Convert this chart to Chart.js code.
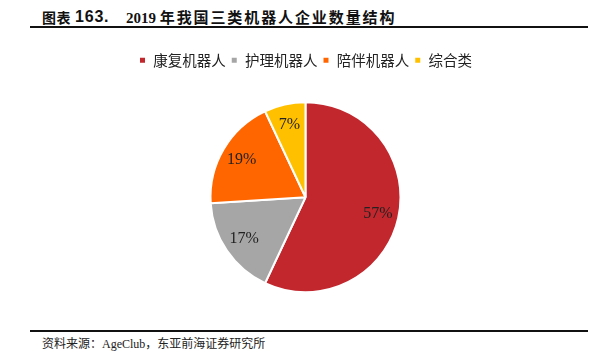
<!DOCTYPE html>
<html>
<head>
<meta charset="utf-8">
<script src="https://cdn.jsdelivr.net/npm/chart.js@4/dist/chart.umd.min.js"></script>
<style>
  html, body { margin: 0; padding: 0; background: #fff; }
  body { width: 602px; height: 364px; position: relative; overflow: hidden; }
  .t { position: absolute; top: 6px; font-weight: 700; color: #111; white-space: nowrap; line-height: 22px; }
  .t1 { left: 42px; font-size: 14px; letter-spacing: 0.6px; font-family: "Noto Sans CJK SC", sans-serif; }
  .t2 { left: 75px; font-size: 16px; letter-spacing: 0.8px; font-family: "Liberation Sans", sans-serif; }
  .t3 { left: 126px; font-size: 15px; font-family: "Liberation Serif", serif; }
  .t3 .cjk { font-family: "Noto Sans CJK SC", sans-serif; letter-spacing: 1.9px; }
  .rule { position: absolute; left: 30px; width: 558px; height: 2px; background: #111; }
  .source { position: absolute; left: 42px; top: 336px; font-size: 12px; color: #222; white-space: nowrap; line-height: 17px;
    font-family: "Liberation Serif", "Noto Sans CJK SC", serif; }
  #wrap { position: absolute; left: 11px; top: 48px; width: 589px; height: 269px; }
</style>
</head>
<body>
<div class="t t1">图表</div>
<div class="t t2">163.</div>
<div class="t t3">2019 <span class="cjk">年我国三类机器人企业数量结构</span></div>
<div class="rule" style="top:26px"></div>
<div id="wrap"><canvas id="myChart"></canvas></div>
<div class="rule" style="top:330px"></div>
<div class="source">资料来源：AgeClub，东亚前海证券研究所</div>
<script>
const categories = ['康复机器人', '护理机器人', '陪伴机器人', '综合类']
const shares = [57, 17, 19, 7]
const colors = ['#C1272D', '#A6A6A6', '#FF6600', '#FFC000']

// percent labels inside each slice
const sliceLabels = {
  id: 'sliceLabels',
  afterDatasetsDraw (chart) {
    const ctx = chart.ctx
    const meta = chart.getDatasetMeta(0)
    ctx.save()
    ctx.font = '16px "Liberation Serif", serif'
    ctx.fillStyle = '#222'
    ctx.textAlign = 'center'
    ctx.textBaseline = 'middle'
    meta.data.forEach((arc, i) => {
      const p = arc.getProps(['x', 'y', 'startAngle', 'endAngle', 'outerRadius'], true)
      const mid = (p.startAngle + p.endAngle) / 2
      const r = p.outerRadius * 0.78
      ctx.fillText(shares[i] + '%', p.x + Math.cos(mid) * r, p.y + Math.sin(mid) * r)
    })
    ctx.restore()
  }
}

new Chart(document.getElementById('myChart').getContext('2d'), {
  type: 'pie',
  data: {
    labels: categories,
    datasets: [
      {
        data: shares,
        backgroundColor: colors,
        borderColor: '#fff',
        borderWidth: 2,
        radius: 95
      }
    ]
  },
  options: {
    responsive: true,
    maintainAspectRatio: false,
    animation: false,
    layout: { padding: 0 },
    plugins: {
      legend: {
        position: 'top',
        labels: {
          boxWidth: 7,
          boxHeight: 7,
          padding: 5,
          color: '#222',
          font: { family: '"Noto Sans CJK SC", sans-serif', size: 14.5 }
        }
      },
      tooltip: { enabled: false }
    }
  },
  plugins: [sliceLabels]
})
</script>
</body>
</html>
